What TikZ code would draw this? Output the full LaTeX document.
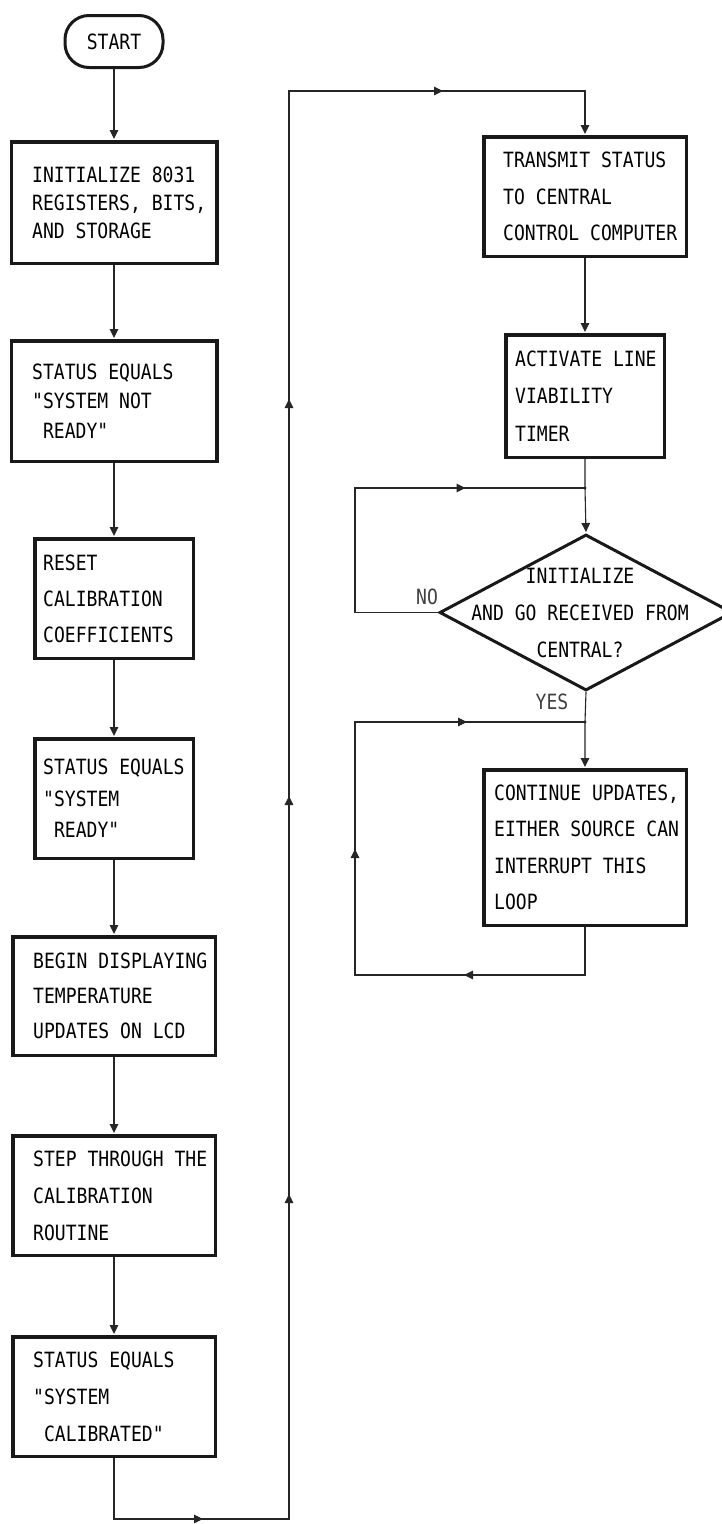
\documentclass[tikz,border=0pt]{standalone}
\usepackage{fontspec}
\newfontfamily\dotfont[FakeStretch=0.86]{DejaVu Sans Mono}
\usetikzlibrary{shapes.geometric,arrows.meta,decorations.markings}
\tikzset{ftri/.tip={Triangle[width=8.5pt,length=9pt]}}
\begin{document}
\begin{tikzpicture}[x=1pt,y=-1pt,
  conn/.style={draw=black!85, line width=1.1pt},
  arr/.style={conn, -ftri, shorten >=1pt},
  procbox/.style={draw=black!90, line width=3.5pt, rectangle, inner sep=0pt},
  termbox/.style={draw=black!90, line width=3pt, rectangle, rounded corners=24pt,
    minimum width=98pt, minimum height=52pt, inner sep=0pt,
    font=\dotfont\fontsize{21}{25}\selectfont},
  decbox/.style={draw=black!90, line width=3pt, diamond, inner sep=0pt,
    minimum width=293pt, minimum height=156pt},
  txt/.style={anchor=west, inner sep=0pt, align=left,
    font=\dotfont\fontsize{21}{#1}\selectfont},
  txt/.default=37,
  ctxt/.style={inner sep=0pt, align=center, font=\dotfont\fontsize{21}{37}\selectfont},
  lbl/.style={inner sep=0pt, text=black!75, font=\dotfont\fontsize{21}{25}\selectfont}
]
\useasboundingbox (0,0) rectangle (722,1524);
\fill[white] (0,0) rectangle (722,1524);

% left column
\node[termbox] (start) at (114,41.5) {START};

\node[procbox, minimum width=205.5pt, minimum height=121.5pt] (b1) at (114,202.5) {};
\node[txt=28] (t1) at (32,202.5) {INITIALIZE 8031\\REGISTERS, BITS,\\AND STORAGE};

\node[procbox, minimum width=205.5pt, minimum height=120.5pt] (b2) at (114,401) {};
\node[txt=29.5] (t2) at (32,401) {STATUS EQUALS\\"SYSTEM NOT\\\phantom{X}READY"};

\node[procbox, minimum width=158.5pt, minimum height=119.5pt] (b3) at (114,598.5) {};
\node[txt=36] (t3) at (43,598.5) {RESET\\CALIBRATION\\COEFFICIENTS};

\node[procbox, minimum width=158.5pt, minimum height=119.5pt] (b4) at (114,798.5) {};
\node[txt=31.5] (t4) at (43,798.5) {STATUS EQUALS\\"SYSTEM\\\phantom{X}READY"};

\node[procbox, minimum width=202.5pt, minimum height=118.5pt] (b5) at (114,996) {};
\node[txt=35] (t5) at (33,996) {BEGIN DISPLAYING\\TEMPERATURE\\UPDATES ON LCD};

\node[procbox, minimum width=202.5pt, minimum height=119.5pt] (b6) at (114,1195.5) {};
\node[txt=37] (t6) at (33,1195.5) {STEP THROUGH THE\\CALIBRATION\\ROUTINE};

\node[procbox, minimum width=202.5pt, minimum height=119.5pt] (b7) at (114,1396.5) {};
\node[txt=37] (t7) at (33,1396.5) {STATUS EQUALS\\"SYSTEM\\\phantom{X}CALIBRATED"};

% right column
\node[procbox, minimum width=202.5pt, minimum height=119.5pt] (bT) at (585,196.5) {};
\node[txt=36.5] (tT) at (503,196.5) {TRANSMIT STATUS\\TO CENTRAL\\CONTROL COMPUTER};

\node[procbox, minimum width=158.5pt, minimum height=122.5pt] (bA) at (585,396) {};
\node[txt=37.5] (tA) at (515,396) {ACTIVATE LINE\\VIABILITY\\TIMER};

\node[decbox] (dia) at (586,612.5) {};
\node[ctxt] (dt) at (580,613) {INITIALIZE\\AND GO RECEIVED FROM\\CENTRAL?};

\node[procbox, minimum width=202.5pt, minimum height=155.5pt] (bC) at (585,847.5) {};
\node[txt=36.5] (tC) at (494,847.5) {CONTINUE UPDATES,\\EITHER SOURCE CAN\\INTERRUPT THIS\\LOOP};

\node[lbl] (no) at (427,597) {NO};
\node[lbl] (yes) at (552,702) {YES};

% coordinates
\coordinate (c1) at (114,1519);
\coordinate (c2) at (289,1519);
\coordinate (c3) at (289,91);
\coordinate (c4) at (585,91);
\coordinate (j1) at (585,488);
\coordinate (n1) at (355,612.5);
\coordinate (n2) at (355,488);
\coordinate (j2) at (585,722);
\coordinate (l1) at (585,975);
\coordinate (l2) at (355,975);
\coordinate (l3) at (355,722);

% left column connectors
\draw[arr] (start.south) -- (b1.north);
\draw[arr] (b1.south) -- (b2.north);
\draw[arr] (b2.south) -- (b3.north);
\draw[arr] (b3.south) -- (b4.north);
\draw[arr] (b4.south) -- (b5.north);
\draw[arr] (b5.south) -- (b6.north);
\draw[arr] (b6.south) -- (b7.north);

% long return path
\draw[arr, postaction={decorate}, decoration={markings,
    mark=at position 150pt with {\arrow{ftri}},
    mark=at position 561pt with {\arrow{ftri}},
    mark=at position 959pt with {\arrow{ftri}},
    mark=at position 1356pt with {\arrow{ftri}},
    mark=at position 1818pt with {\arrow{ftri}}}]
  (b7.south) -- (c1) -- (c2) -- (c3) -- (c4) -- (bT.north);

% right column connectors
\draw[arr] (bT.south) -- (bA.north);
\draw[arr] (bA.south) -- (j1) -- (dia.north);
\draw[conn, postaction={decorate}, decoration={markings,
    mark=at position 318pt with {\arrow{ftri}}}]
  (dia.west) -- (n1) -- (n2) -- (j1);
\draw[arr] (dia.south) -- (j2) -- (bC.north);
\draw[conn, postaction={decorate}, decoration={markings,
    mark=at position 169pt with {\arrow{ftri}},
    mark=at position 404pt with {\arrow{ftri}},
    mark=at position 643pt with {\arrow{ftri}}}]
  (bC.south) -- (l1) -- (l2) -- (l3) -- (j2);

\fill[black!85] (j1) circle (1.6pt);
\fill[black!85] (j2) circle (1.6pt);
\end{tikzpicture}
\end{document}
